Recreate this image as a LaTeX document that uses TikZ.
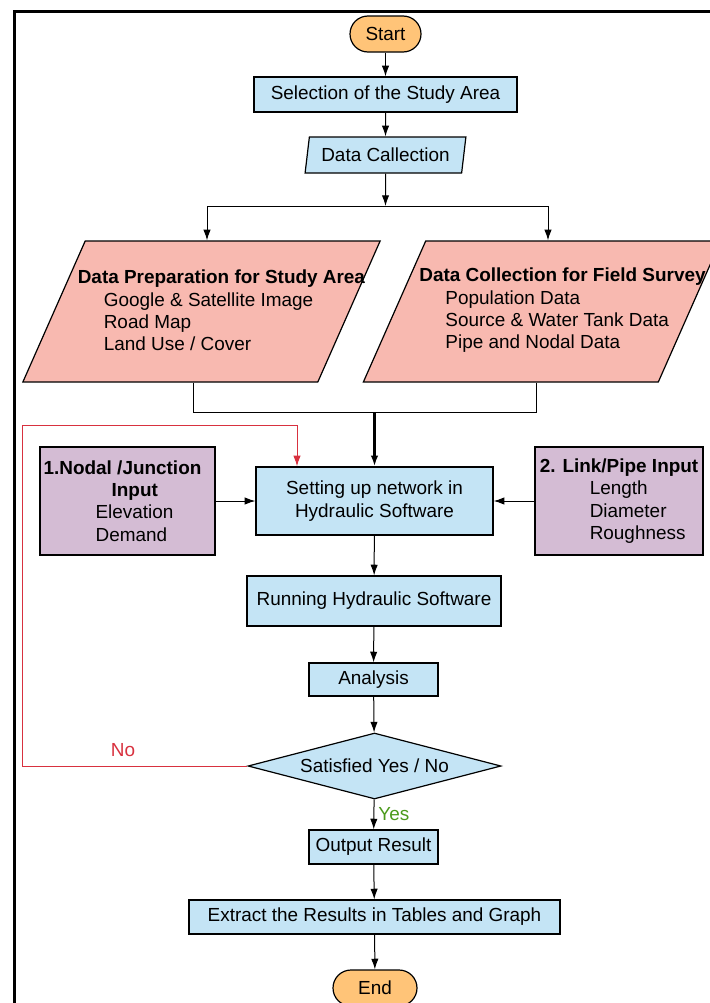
\documentclass[tikz,border=0pt]{standalone}
\usepackage{fontspec}
\setmainfont{Liberation Sans}
\usepackage{xcolor}
\usetikzlibrary{shapes,shapes.geometric,arrows.meta,positioning,calc}
\definecolor{boxblue}{HTML}{C4E4F5}
\definecolor{termorange}{HTML}{FFC478}
\definecolor{iopink}{HTML}{F8B9B0}
\definecolor{inpurple}{HTML}{D4BCD4}
\definecolor{loopred}{HTML}{D8313F}
\definecolor{yesgreen}{HTML}{4B9A1B}
\tikzstyle{block} = [rectangle, draw, fill=boxblue, line width=0.9pt, align=center, inner sep=0pt]
\tikzstyle{term} = [rectangle, draw, fill=termorange, line width=0.9pt, rounded corners=13.5pt, minimum height=27pt, inner sep=0pt]
\tikzstyle{io} = [trapezium, trapezium left angle=75, trapezium right angle=105, trapezium stretches=true, draw, fill=iopink, line width=0.9pt, inner sep=2pt]
\tikzstyle{inbox} = [rectangle, draw, fill=inpurple, line width=0.9pt, align=left, inner sep=0pt, minimum width=131.25pt, minimum height=81pt]
\tikzstyle{decision} = [diamond, aspect=3.8, draw, fill=boxblue, line width=0.9pt, inner sep=0pt, minimum width=189.75pt, minimum height=49.5pt]
\tikzstyle{line} = [draw, line width=0.75pt, -{Latex[length=8pt,width=5.5pt]}]
\tikzstyle{redline} = [line, draw=loopred, -{Latex[length=8pt,width=5.5pt,fill=loopred]}]

\begin{document}
\begin{tikzpicture}[x=0.75pt, y=-0.75pt, font=\fontsize{14.2pt}{16.8pt}\selectfont]
\clip (0,0) rectangle (710,1003);

% frame
\draw[line width=2.25pt] (14.2,1003) -- (14.2,11.5) -- (710,11.5);

% top part
\node [term, minimum width=53.25pt] (start) at (385.5,34) {Start};
\node [block, minimum width=197.25pt, minimum height=26.25pt] (select) at (385.5,94.5) {Selection of the Study Area};
\node [io, trapezium left angle=79, trapezium right angle=101, fill=boxblue, minimum height=27pt, minimum width=120.75pt] (collect) at (385.5,155) {Data Callection};

\node [io, minimum height=105.75pt, minimum width=268pt] (prep) at (201.5,311.5) {};
\node [io, minimum height=105.75pt, minimum width=268pt] (field) at (542,311.5) {};
\node [align=left, inner sep=0pt] (preptext) at ($(prep.center)+(20,-1)$) {\textbf{Data Preparation for Study Area}\\
  \hspace*{19.5pt}Google \& Satellite Image\\
  \hspace*{19.5pt}Road Map\\
  \hspace*{19.5pt}Land Use / Cover};
\node [align=left, inner sep=0pt] (fieldtext) at ($(field.center)+(20.5,-1)$) {\textbf{Data Collection for Field Survey}\\
  \hspace*{19.5pt}Population Data\\
  \hspace*{19.5pt}Source \& Water Tank Data\\
  \hspace*{19.5pt}Pipe and Nodal Data};

% network set-up
\node [block, minimum width=177.75pt, minimum height=51pt] (setup) at (374.5,501) {Setting up network in\\Hydraulic Software};
\node [inbox] (nodal) at (127.5,501) {\textbf{1.Nodal /Junction}\hspace*{7.5pt}\\
  \hspace*{51pt}\textbf{Input}\\
  \hspace*{39pt}Elevation\\
  \hspace*{39pt}Demand};
\node [inbox, minimum width=126pt] (link) at (619,501) {\textbf{2. Link/Pipe Input}\\
  \hspace*{37.5pt}Length\\
  \hspace*{37.5pt}Diameter\\
  \hspace*{37.5pt}Roughness};

% run and check
\node [block, minimum width=190.5pt, minimum height=37.5pt] (run) at (374,601) {Running Hydraulic Software};
\node [block, minimum width=96.75pt, minimum height=24.75pt] (analysis) at (373.5,679.5) {Analysis};
\node [decision] (satisfied) at (374.5,766) {Satisfied Yes / No};
\node [block, minimum width=96.75pt, minimum height=25.5pt] (output) at (373.5,847) {Output Result};
\node [block, minimum width=278.25pt, minimum height=25.5pt] (extract) at (374.5,917) {Extract the Results in Tables and Graph};
\node [term, minimum width=63pt] (end) at (375,988) {End};

\coordinate (split) at (385.5,206);
\coordinate (splitL) at (207,206);
\coordinate (splitR) at (548,206);
\coordinate (mergeL) at (193,412);
\coordinate (mergeR) at (536,412);
\coordinate (merge) at (374.5,412);
\coordinate (loopA) at (22.5,766);
\coordinate (loopB) at (22.5,425);
\coordinate (loopC) at (297,425);

\path [line] (start) -- (select);
\path [line] (select) -- (collect);
\path [line] (collect) -- (split);
\draw [line width=0.75pt] (splitL) -- (splitR);
\path [line] (splitL) -- (splitL |- prep.north);
\path [line] (splitR) -- (splitR |- field.north);
\draw [line width=0.75pt] (mergeL |- prep.south) -- (mergeL) -- (mergeR) -- (mergeR |- field.south);
\path [line, line width=1.8pt] (merge) -- (setup);
\path [line] (nodal) -- (setup);
\path [line] (link) -- (setup);
\path [line] (setup) -- (run);
\path [line] (run) -- (analysis);
\path [line] (analysis) -- (satisfied);
\path [line] (satisfied) -- node [right, text=yesgreen, inner sep=3pt] (yes) {Yes} (output);
\path [line] (output) -- (extract);
\path [line] (extract) -- (end);
\path [redline] (satisfied.west) -- (loopA) -- (loopB) -- (loopC) -- (loopC |- setup.north);
\node [text=loopred, inner sep=0pt] (no) at (123,750) {No};

\end{tikzpicture}
\end{document}
